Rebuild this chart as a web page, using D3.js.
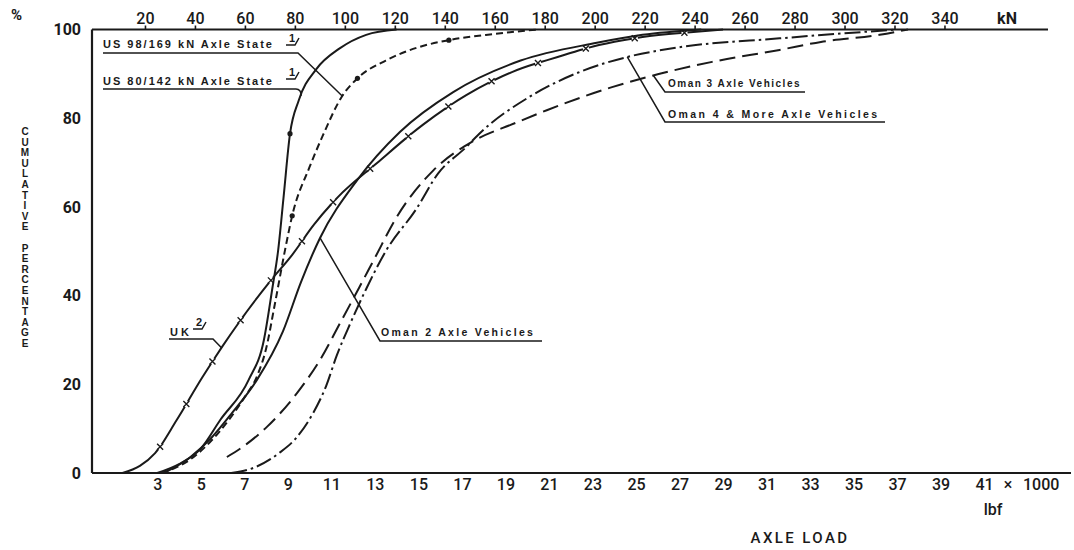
<!DOCTYPE html>
<html>
<head>
<meta charset="utf-8">
<script src="https://cdn.jsdelivr.net/npm/d3@7"></script>
<style>
  html, body { margin: 0; padding: 0; background: #fff; }
  svg { display: block; }
  text { fill: #1a1a1a; }
</style>
</head>
<body>
<svg id="chart" width="1074" height="550"></svg>
<script>
// ---- tick labels ----
const lbfTicks = [3, 5, 7, 9, 11, 13, 15, 17, 19, 21, 23, 25, 27, 29, 31, 33, 35, 37, 39, 41];
const kNTicks = [20, 40, 60, 80, 100, 120, 140, 160, 180, 200, 220, 240, 260, 280, 300, 320, 340];
const pctTicks = [0, 20, 40, 60, 80, 100];

// ---- cumulative distributions: [axle load (1000 lbf), cumulative %] ----
const us80 = [[3.0,0],[4.0,2],[5.0,5.5],[5.9,12],[7.2,21],[7.9,30],[8.3,42],[8.55,50],[8.8,62],[9.1,76.5],[9.5,84],[10.3,91],[11.4,95.8],[12.6,98.8],[14.0,100]];
const us98 = [[3.2,0],[4.5,3],[5.8,9],[7.0,17],[7.6,22],[8.0,28],[8.4,38],[8.9,51],[9.2,58],[10.0,69],[10.6,76],[11.5,85],[12.2,89],[13.5,93],[15.0,96],[16.4,97.6],[18.5,99],[20.5,100]];
const uk = [[1.4,0],[2.2,1.6],[2.9,4.5],[3.9,12],[5.05,21.4],[6.0,28.6],[7.1,36.3],[8.2,43.3],[9.2,49.2],[10.2,56],[11.3,62.2],[13.1,69.9],[15.2,78.5],[17.2,85.2],[19.3,90.4],[21.4,93.8],[23.3,96.5],[25.3,98.3],[27.5,99.4],[29.0,100]];
const oman2 = [[3.3,0],[4.5,3.5],[5.5,8],[6.43,13.5],[7.58,21],[8.78,32],[9.6,43],[10.48,53],[12.18,66],[14.15,76.9],[16.6,85.9],[19.7,93],[23.2,97],[25.3,98.8],[28.0,100]];
const oman3 = [[6.2,3.6],[7.1,6.5],[8.04,10.4],[9.42,18],[10.48,25.5],[11.4,33.8],[12.3,42],[13.0,48.5],[14.0,57.7],[15.7,68.3],[17.4,74.5],[19.5,79],[20.9,81.8],[23.9,87],[26.0,89.9],[28.5,92.7],[31.6,95.4],[33.5,97.2],[36.2,98.8],[37.5,100]];
const oman4 = [[6.4,0],[7.5,1.3],[8.6,4.5],[9.4,8],[10.16,13.5],[10.75,19.5],[11.25,26.5],[11.85,33.5],[12.6,41.5],[13.5,50],[14.9,59.5],[15.9,67.5],[17.2,73.5],[17.8,76.5],[20.1,84.8],[22.4,90.4],[24.6,93.8],[27.0,96],[31.6,98],[37.0,100]];

// load values carrying dot markers
const us80Dots = [9.1];
const us98Dots = [9.2, 12.2, 16.4];

(function () {
const ink = "#1a1a1a";
const numFont = "Roboto, 'Liberation Sans', Arial, sans-serif";
const lblFont = "'Liberation Sans', Arial, sans-serif";

const svg = d3.select("#chart");
const plotL = 92, plotR = 1049.4, plotT = 29.5, plotB = 473;

const x = d3.scaleLinear().domain([0, 44]).range([plotL, plotR]);
const xTop = d3.scaleLinear().domain([0, 382]).range([plotL + 3, plotR]);
const y = d3.scaleLinear().domain([0, 100]).range([plotB, plotT]);

// ---- frame ----
svg.append("path")
  .attr("d", `M${plotL},${plotT}H1048M${plotL},${plotT}V${plotB}M${plotL},${plotB}H1071`)
  .attr("fill", "none").attr("stroke", ink).attr("stroke-width", 2.2);

// ---- axes ----
const gB = svg.append("g").attr("transform", `translate(0,${plotB})`)
  .call(d3.axisBottom(x).tickValues(lbfTicks).tickSize(0).tickPadding(6));
gB.select(".domain").remove();

const gT = svg.append("g").attr("transform", `translate(0,${plotT})`)
  .call(d3.axisTop(xTop).tickValues(kNTicks).tickSize(4).tickPadding(2).tickSizeOuter(0));
gT.select(".domain").remove();
gT.selectAll(".tick line").attr("stroke", ink).attr("stroke-width", 1.6);

const gL = svg.append("g").attr("transform", `translate(${plotL},0)`)
  .call(d3.axisLeft(y).tickValues(pctTicks).tickSize(0).tickPadding(11));
gL.select(".domain").remove();

svg.selectAll(".tick text")
  .attr("fill", ink)
  .style("font-family", numFont).style("font-size", "16px").style("font-weight", 500);
gL.selectAll(".tick text").style("font-weight", 700);

// unit labels
svg.append("text").attr("x", 11).attr("y", 20).text("%")
  .style("font-family", numFont).style("font-size", "15px").style("font-weight", 700);
svg.append("text").attr("x", 1007).attr("y", 24).attr("text-anchor", "middle").text("kN")
  .style("font-family", numFont).style("font-size", "16px").style("font-weight", 700);
svg.append("text").attr("x", 1008).attr("y", 490).attr("text-anchor", "middle").text("×")
  .style("font-family", numFont).style("font-size", "16px").style("font-weight", 500);
svg.append("text").attr("x", 1023).attr("y", 490).text("1000")
  .style("font-family", numFont).style("font-size", "16px").style("font-weight", 500);
svg.append("text").attr("x", 993).attr("y", 515).attr("text-anchor", "middle").text("lbf")
  .style("font-family", numFont).style("font-size", "16px").style("font-weight", 500);
svg.append("text").attr("x", 800).attr("y", 543).attr("text-anchor", "middle").text("AXLE LOAD")
  .style("font-family", numFont).style("font-size", "15px").style("font-weight", 500)
  .style("letter-spacing", "2.4px");

// vertical stacked title
const yTitle = "CUMULATIVE PERCENTAGE".split("");
svg.append("g").selectAll("text").data(yTitle).join("text")
  .attr("x", 25).attr("y", (d, i) => 135 + i * 10.6)
  .attr("text-anchor", "middle").text(d => d)
  .style("font-family", lblFont).style("font-size", "10px").style("font-weight", 700);

// ---- curves ----
const line = d3.line().x(d => x(d[0])).y(d => y(d[1])).curve(d3.curveMonotoneX);

function drawSeries(data, dash) {
  return svg.append("path").datum(data)
    .attr("d", line).attr("fill", "none")
    .attr("stroke", ink).attr("stroke-width", 2)
    .attr("stroke-linejoin", "round")
    .attr("stroke-dasharray", dash);
}
function valueAt(data, v) {
  return d3.scaleLinear().domain(data.map(d => d[0])).range(data.map(d => d[1]))(v);
}
function dots(data, loads) {
  svg.append("g").selectAll("circle").data(loads).join("circle")
    .attr("cx", v => x(v)).attr("cy", v => y(valueAt(data, v)))
    .attr("r", 2.6).attr("fill", ink);
}

drawSeries(us80, null);
dots(us80, us80Dots);
drawSeries(us98, "7,4");
dots(us98, us98Dots);
drawSeries(oman2, null);
drawSeries(oman3, "16,7");
drawSeries(oman4, "16,4,2.5,4");

// UK: long dashes with a cross in each gap
const ukPath = drawSeries(uk, "44,6");
const ukNode = ukPath.node();
const ukLen = ukNode.getTotalLength();
const crossAt = d3.range(47, ukLen, 50).map(l => ukNode.getPointAtLength(l));
svg.append("g").selectAll("path").data(crossAt).join("path")
  .attr("d", p => `M${p.x - 3},${p.y - 3}L${p.x + 3},${p.y + 3}M${p.x - 3},${p.y + 3}L${p.x + 3},${p.y - 3}`)
  .attr("stroke", ink).attr("stroke-width", 1.4);

// ---- annotations ----
const lead = svg.append("g").attr("fill", "none").attr("stroke", ink).attr("stroke-width", 1.5);
function anchor(data, v) { return [x(v), y(valueAt(data, v))]; }

function label(txt, px, py, size, weight, spacing) {
  return svg.append("text").attr("x", px).attr("y", py).text(txt)
    .style("font-family", lblFont).style("font-size", size + "px")
    .style("font-weight", weight).style("letter-spacing", spacing + "px");
}
function footnote(n, px, py) {
  svg.append("text").attr("x", px).attr("y", py).text(n)
    .style("font-family", lblFont).style("font-size", "11px").style("font-weight", 700);
  lead.append("path").attr("d", `M${px - 3},${py + 3}H${px + 6}L${px + 10},${py - 4}`);
}

// US 98/169
label("US 98/169 kN  Axle State", 103, 48, 11, 700, 2);
footnote("1", 289, 42);
{
  const [ax, ay] = anchor(us98, 11.5);
  lead.append("path").attr("d", `M103,53H298L${ax},${ay}`);
}
// US 80/142
label("US 80/142 kN  Axle State", 103, 85, 11, 700, 2);
footnote("1", 289, 76);
{
  const [ax, ay] = anchor(us80, 9.62);
  lead.append("path").attr("d", `M103,89H296Q301,89 ${ax},${ay}`);
}
// UK
label("UK", 170, 336, 11, 700, 3);
footnote("2", 196, 326);
{
  const [ax, ay] = anchor(uk, 5.95);
  lead.append("path").attr("d", `M169,339H213L${ax},${ay}`);
}
// Oman 2 axle
label("Oman  2  Axle  Vehicles", 381, 336, 10.5, 700, 2.3);
{
  const [ax, ay] = anchor(oman2, 10.48);
  lead.append("path").attr("d", `M${ax},${ay}L380,341H542`);
}
// Oman 3 axle
label("Oman  3 Axle  Vehicles", 668, 87, 10, 700, 1.5);
{
  const [ax, ay] = anchor(oman3, 25.8);
  lead.append("path").attr("d", `M${ax},${ay}L665,92H805`);
}
// Oman 4 & more
label("Oman  4  &  More  Axle  Vehicles", 668, 118, 10.5, 700, 2.4);
{
  const [ax, ay] = anchor(oman4, 24.6);
  lead.append("path").attr("d", `M${ax},${ay}L665,122H885`);
}
})();
</script>
</body>
</html>
